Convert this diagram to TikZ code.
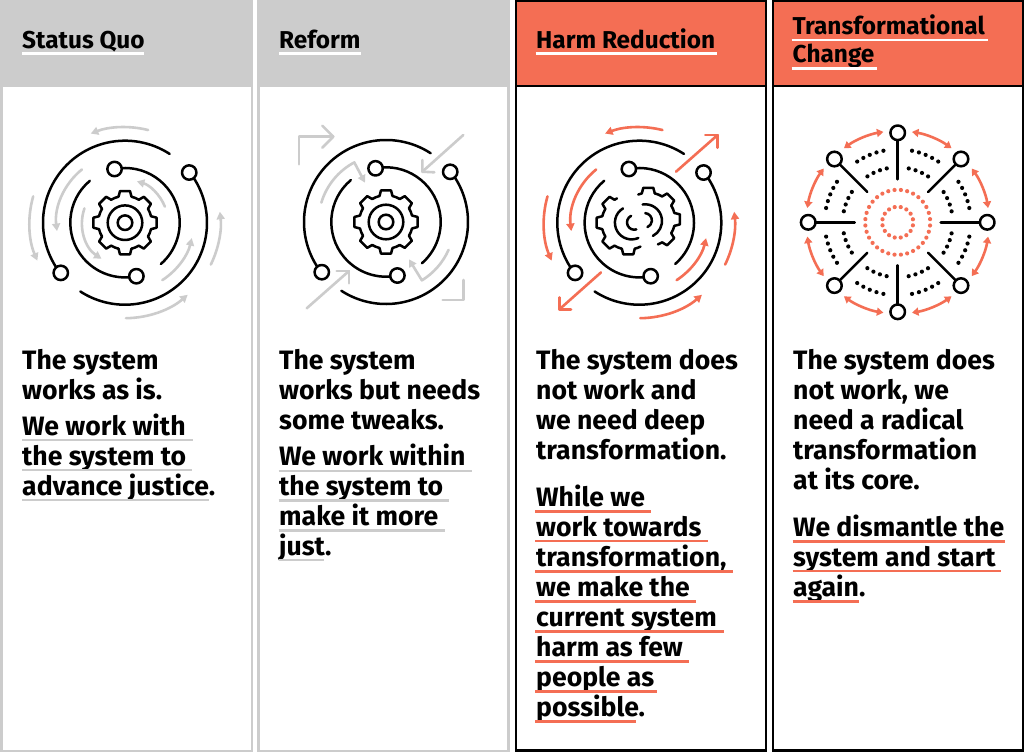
\documentclass[tikz,border=0pt]{standalone}
\usepackage{fontspec}
\setmainfont{Fira Sans}[BoldFont={Fira Sans Bold}]
\usetikzlibrary{arrows.meta}
\definecolor{hgray}{HTML}{CCCCCC}
\definecolor{horange}{HTML}{F46E54}
\tikzset{
  x=1pt,y=1pt,
  blk/.style={draw=black,line width=2.5pt,line cap=round,line join=round},
  orb/.style={blk,fill=white},
  arw/.style={line width=2.6pt,line cap=round,line join=round,-{Triangle[length=7.5pt,width=8pt]}},
  plain/.style={line width=2.6pt,line cap=round,line join=round},
  head/.style={inner sep=0pt,anchor=base west,font=\bfseries\fontsize{24.4}{24.4}\selectfont},
  body/.style={inner sep=0pt,anchor=base west,font=\bfseries\fontsize{26.6}{26.6}\selectfont},
}
\newcommand\tl[5]{\node[#1] (#2) at (#3,-#4) {#5};}
\newcommand\ul[4]{\draw[line width=2.5pt,#4] (#1,-#2) -- (#3,-#2);}
\newcommand\oarc[3]{\draw[blk] (#2:#1) arc[start angle=#2,end angle=#3,radius=#1];}
\newcommand\aarc[4][]{\draw[arw,#1] (#3:#2) arc[start angle=#3,end angle=#4,radius=#2];}
\newcommand\orbs{%
  \oarc{82}{57}{218}\oarc{82}{38}{-123}\oarc{54.7}{101}{-49}\oarc{54.7}{130}{282}
  \draw[orb] (218:81.5) circle[radius=7.2];
  \draw[orb] (38:81.5) circle[radius=7.2];
  \draw[orb] (101:54.7) circle[radius=7.2];
  \draw[orb] (282:54.7) circle[radius=7.2];
}
\newcommand\tooth[1]{\draw[blk] (#1-14:26.8) -- (#1-9:32) -- (#1+9:32) -- (#1+14:26.8);}
\newcommand\gap[2]{\draw[blk] (#1:26.8) arc[start angle=#1,end angle=#2,radius=26.8];}
\newcommand\gearwhole{%
  \foreach \t in {0,45,...,315}{\tooth{\t}\gap{\t+14}{\t+31}}
  \draw[blk] (0,0) circle[radius=17.3];
  \draw[blk] (0,0) circle[radius=7.3];
}
\begin{document}
\begin{tikzpicture}
\useasboundingbox (0,-752) rectangle (1024,0);
\fill[white] (0,-752) rectangle (1024,0);
% panels
\fill[hgray] (0,-752) rectangle (253,0);
\fill[white] (2.8,-749.5) rectangle (250.6,-87.3);
\fill[hgray] (257,-752) rectangle (510,0);
\fill[white] (259.8,-749.5) rectangle (507.4,-87.3);
\fill[black] (514.5,-752) rectangle (767,0);
\fill[white] (517,-748.5) rectangle (764.5,-87.3);
\fill[horange] (517,-84.7) rectangle (764.5,-2.5);
\fill[black] (771.5,-752) rectangle (1024,0);
\fill[white] (774,-748.5) rectangle (1021.5,-87.3);
\fill[horange] (774,-84.7) rectangle (1021.5,-2.5);
% headers
\tl{head}{h1}{22}{48.3}{Status Quo}\ul{22}{53.3}{144}{white}
\tl{head}{h2}{279}{48.3}{Reform}\ul{279}{53.3}{361.3}{white}
\tl{head}{h3}{536}{48.3}{Harm Reduction}\ul{535.7}{53.3}{716.7}{white}
\tl{head}{h4a}{792.5}{34.3}{Transformational}\ul{791.7}{40}{988.3}{white}
\tl{head}{h4b}{792.5}{63}{Change}\ul{791.7}{68.7}{876.7}{white}
% column 1 text
\tl{body}{a1}{22}{369.5}{The system}
\tl{body}{a2}{22}{399.5}{works as is.}
\tl{body}{a3}{22}{435}{We work with}\ul{22}{440}{192.5}{hgray}
\tl{body}{a4}{22}{465}{the system to}\ul{22}{470}{192}{hgray}
\tl{body}{a5}{22}{495}{advance justice.}\ul{22}{500}{209}{hgray}
% column 2 text
\tl{body}{b1}{279}{369.5}{The system}
\tl{body}{b2}{279}{399.5}{works but needs}
\tl{body}{b3}{279}{429.5}{some tweaks.}
\tl{body}{b4}{279}{465}{We work within}\ul{278.7}{471}{472}{hgray}
\tl{body}{b5}{279}{495}{the system to}\ul{278.7}{500.5}{448.7}{hgray}
\tl{body}{b6}{279}{525}{make it more}\ul{278.7}{530.7}{445}{hgray}
\tl{body}{b7}{279}{555}{just.}\ul{278.7}{560}{323.7}{hgray}
% column 3 text
\tl{body}{c1}{536}{369.5}{The system does}
\tl{body}{c2}{536}{399.5}{not work and}
\tl{body}{c3}{536}{429.5}{we need deep}
\tl{body}{c4}{536}{459.5}{transformation.}
\tl{body}{c5}{536}{506}{While we}\ul{535.3}{511.7}{651.3}{horange}
\tl{body}{c6}{536}{536}{work towards}\ul{535.3}{541}{707.7}{horange}
\tl{body}{c7}{536}{566}{transformation,}\ul{535.3}{571.3}{732.7}{horange}
\tl{body}{c8}{536}{596}{we make the}\ul{535.3}{601.3}{696}{horange}
\tl{body}{c9}{536}{626}{current system}\ul{535.3}{631.3}{724}{horange}
\tl{body}{c10}{536}{656}{harm as few}\ul{535.3}{661.3}{689}{horange}
\tl{body}{c11}{536}{686}{people as}\ul{535.3}{691.3}{657}{horange}
\tl{body}{c12}{536}{716}{possible.}\ul{535.3}{721.3}{635.7}{horange}
% column 4 text
\tl{body}{d1}{793}{369.5}{The system does}
\tl{body}{d2}{793}{399.5}{not work, we}
\tl{body}{d3}{793}{429.5}{need a radical}
\tl{body}{d4}{793}{459.5}{transformation}
\tl{body}{d5}{793}{489.5}{at its core.}
\tl{body}{d6}{793}{536}{We dismantle the}\ul{792.7}{541.3}{1005.3}{horange}
\tl{body}{d7}{793}{566}{system and start}\ul{792.7}{571}{1001}{horange}
\tl{body}{d8}{793}{596}{again.}\ul{792.7}{601.7}{859.3}{horange}
% icon 1
\begin{scope}[shift={(125,-222.7)}]
  \tikzset{arw/.append style={hgray}}
  \aarc{95.5}{76}{111}\aarc{95.5}{164}{203.4}\aarc{68.5}{129}{187}\aarc{43}{160.6}{237}
  \aarc{43}{22}{74}\aarc{68.5}{-57}{-13}\aarc{95.5}{-26}{6.6}\aarc{95.5}{-89.4}{-49}
  \orbs\gearwhole
\end{scope}
% icon 2
\begin{scope}[shift={(386,-222)}]
  \draw[plain,hgray] (-87,57.7) -- (-87,85.3) -- (-52.7,85.3);
  \draw[plain,hgray] (-63.7,96.3) -- (-52.7,85.3) -- (-63.7,74.3);
  \draw[plain,hgray] (77.3,87) -- (36.3,50.3);
  \draw[plain,hgray] (48.3,49.7) -- (36.3,50.3) -- (36.3,62);
  \draw[plain,hgray] (-79.3,-86.3) -- (-37,-49);
  \draw[plain,hgray] (-49.3,-49) -- (-37,-49) -- (-37,-61.3);
  \draw[plain,hgray] (56.7,-78) -- (77.3,-78) -- (77.3,-58);
  \draw[arw,hgray] (163.3:67.5) arc[start angle=163.3,end angle=118,radius=67.5] -- (-21,39.3);
  \draw[arw,hgray] (-24:68.5) arc[start angle=-24,end angle=-58.4,radius=68.5] -- (23,-37.3);
  \orbs\gearwhole
\end{scope}
% icon 3
\begin{scope}[shift={(639.3,-222.7)}]
  \tikzset{arw/.append style={horange}}
  \aarc{95.5}{76}{111}\aarc{95.5}{164}{203.4}\aarc{68.5}{129}{187}
  \aarc{68.5}{-57}{-13}\aarc{95.5}{-26}{6.6}\aarc{95.5}{-89.4}{-49}
  \draw[plain,horange] (36.7,51) -- (78.3,87.7);
  \draw[plain,horange] (66,87.7) -- (78.3,87.7) -- (78.3,75);
  \draw[plain,horange] (-38.3,-49.7) -- (-80,-86.7);
  \draw[plain,horange] (-68.3,-86.7) -- (-80,-86.7) -- (-80,-74.7);
  \orbs
  \begin{scope}[shift={(-11,0)}]
    \foreach \t in {135,180,225,270}{\tooth{\t}}
    \foreach \t in {135,180,225}{\gap{\t+14}{\t+31}}
    \gap{284}{297}\gap{115}{121}
  \end{scope}
  \begin{scope}[shift={(9,3.3)}]
    \foreach \t in {-45,0,45,90}{\tooth{\t}}
    \foreach \t in {-45,0,45}{\gap{\t+14}{\t+31}}
    \gap{-69}{-59}\gap{104}{112}
  \end{scope}
  \draw[blk] ([shift={(-7.7,0)}]121:16.7) arc[start angle=121,end angle=294,radius=16.7];
  \draw[blk] ([shift={(6,1.7)}]99:16.7) arc[start angle=99,end angle=-63,radius=16.7];
  \draw[blk] ([shift={(-5,0.3)}]116:7.3) arc[start angle=116,end angle=286,radius=7.3];
  \draw[blk] ([shift={(5.3,2.3)}]85:7.3) arc[start angle=85,end angle=-67,radius=7.3];
\end{scope}
% icon 4
\begin{scope}[shift={(897.7,-222.3)}]
  \foreach \t in {0,45,...,315}{
    \draw[blk] (\t:43) -- (\t:89.5);
    \draw[orb] (\t:89.5) circle[radius=7.3];
    \draw[line width=2.6pt,horange,{Triangle[length=6.5pt,width=8pt]}-{Triangle[length=6.5pt,width=8pt]}]
      (\t+9:91.5) arc[start angle=\t+9,end angle=\t+36,radius=91.5];
    \foreach \i in {0,...,4}{\fill (\t+11.3+\i*5.6:73) circle[radius=2.1];}
    \foreach \i in {0,...,3}{\fill (\t+11.5+\i*7.3:55) circle[radius=2.1];}
  }
  \foreach \i in {0,...,31}{\fill[horange] (5.625+\i*11.25:32.5) circle[radius=2.1];}
  \foreach \i in {0,...,15}{\fill[horange] (11.25+\i*22.5:15.5) circle[radius=2.1];}
\end{scope}
\end{tikzpicture}
\end{document}
